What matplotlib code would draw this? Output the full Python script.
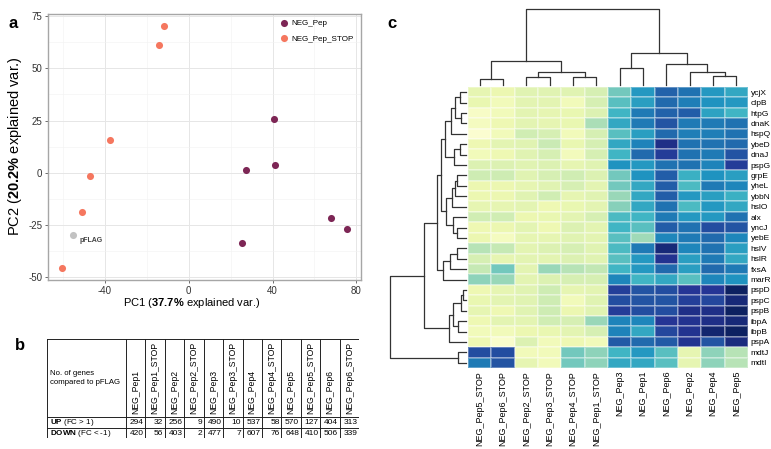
import matplotlib

matplotlib.use("Agg")
import matplotlib.pyplot as plt
import numpy as np
from matplotlib.ticker import MultipleLocator

plt.rcParams["font.family"] = ["Liberation Sans", "DejaVu Sans"]
plt.rcParams["mathtext.fontset"] = "custom"
plt.rcParams["mathtext.rm"] = "Liberation Sans"
plt.rcParams["mathtext.bf"] = "Liberation Sans:bold"
plt.rcParams["axes.unicode_minus"] = False

W, H = 771, 449

# ---- panel a: PCA scores
pep_pc1 = [40.8, 41.1, 27.3, 25.4, 68.1, 75.4]
pep_pc2 = [25.5, 3.6, 1.2, -33.7, -21.8, -27.1]
stop_pc1 = [-11.9, -14.3, -37.5, -47.0, -51.1, -60.3]
stop_pc2 = [70.3, 61.4, 15.5, -1.4, -19.0, -45.7]
pflag_pc1 = [-55.4]
pflag_pc2 = [-29.7]

# ---- panel b: DE gene counts vs pFLAG
tab_cols = ["NEG_Pep1", "NEG_Pep1_STOP", "NEG_Pep2", "NEG_Pep2_STOP",
            "NEG_Pep3", "NEG_Pep3_STOP", "NEG_Pep4", "NEG_Pep4_STOP",
            "NEG_Pep5", "NEG_Pep5_STOP", "NEG_Pep6", "NEG_Pep6_STOP"]
tab_up = [294, 32, 256, 9, 490, 10, 537, 58, 570, 127, 404, 313]
tab_down = [420, 56, 403, 2, 477, 7, 607, 76, 648, 410, 506, 339]

# ---- panel c: clustered heatmap (display order)
hm_cols = ["NEG_Pep5_STOP", "NEG_Pep6_STOP", "NEG_Pep2_STOP", "NEG_Pep3_STOP",
           "NEG_Pep4_STOP", "NEG_Pep1_STOP", "NEG_Pep3", "NEG_Pep1",
           "NEG_Pep6", "NEG_Pep2", "NEG_Pep4", "NEG_Pep5"]
genes = ["ycjX", "clpB", "htpG", "dnaK", "hspQ", "ybeD", "dnaJ", "pspG", "grpE",
         "yheL", "ybbN", "hslO", "alx", "yncJ", "yebE", "hslV", "hslR", "fxsA",
         "marR", "pspD", "pspC", "pspB", "ibpA", "ibpB", "pspA", "mdtJ", "mdtI"]
hm_vals = [
    [0.15, 0.13, 0.17, 0.17, 0.17, 0.20, 0.40, 0.60, 0.74, 0.70, 0.60, 0.55],
    [0.14, 0.10, 0.16, 0.16, 0.10, 0.20, 0.45, 0.58, 0.72, 0.67, 0.62, 0.60],
    [0.06, 0.10, 0.16, 0.15, 0.14, 0.18, 0.50, 0.68, 0.74, 0.75, 0.57, 0.50],
    [0.08, 0.12, 0.16, 0.15, 0.14, 0.30, 0.55, 0.68, 0.78, 0.68, 0.68, 0.70],
    [0.03, 0.10, 0.22, 0.20, 0.10, 0.20, 0.45, 0.58, 0.72, 0.67, 0.67, 0.70],
    [0.12, 0.16, 0.17, 0.24, 0.14, 0.20, 0.55, 0.66, 0.90, 0.70, 0.70, 0.72],
    [0.10, 0.12, 0.17, 0.20, 0.09, 0.20, 0.50, 0.72, 0.85, 0.70, 0.68, 0.78],
    [0.18, 0.18, 0.17, 0.18, 0.15, 0.17, 0.62, 0.60, 0.70, 0.70, 0.66, 0.85],
    [0.23, 0.23, 0.17, 0.20, 0.22, 0.18, 0.40, 0.62, 0.75, 0.52, 0.62, 0.58],
    [0.13, 0.13, 0.15, 0.17, 0.20, 0.16, 0.40, 0.55, 0.75, 0.48, 0.68, 0.65],
    [0.13, 0.13, 0.17, 0.22, 0.15, 0.17, 0.33, 0.55, 0.75, 0.60, 0.58, 0.52],
    [0.15, 0.15, 0.16, 0.12, 0.14, 0.16, 0.36, 0.55, 0.70, 0.48, 0.60, 0.55],
    [0.22, 0.22, 0.13, 0.14, 0.16, 0.20, 0.48, 0.50, 0.68, 0.60, 0.60, 0.70],
    [0.12, 0.13, 0.16, 0.12, 0.18, 0.16, 0.50, 0.45, 0.75, 0.70, 0.80, 0.78],
    [0.13, 0.08, 0.15, 0.15, 0.17, 0.16, 0.45, 0.32, 0.65, 0.68, 0.72, 0.65],
    [0.28, 0.25, 0.16, 0.18, 0.20, 0.17, 0.48, 0.68, 0.93, 0.65, 0.70, 0.58],
    [0.20, 0.15, 0.16, 0.16, 0.18, 0.17, 0.45, 0.60, 0.88, 0.58, 0.68, 0.55],
    [0.25, 0.40, 0.16, 0.33, 0.28, 0.26, 0.50, 0.60, 0.72, 0.58, 0.72, 0.68],
    [0.35, 0.33, 0.16, 0.18, 0.20, 0.20, 0.65, 0.50, 0.55, 0.45, 0.65, 0.62],
    [0.12, 0.15, 0.17, 0.23, 0.15, 0.16, 0.84, 0.78, 0.80, 0.87, 0.87, 0.98],
    [0.14, 0.16, 0.17, 0.23, 0.10, 0.17, 0.80, 0.78, 0.78, 0.84, 0.82, 0.93],
    [0.15, 0.12, 0.17, 0.23, 0.13, 0.17, 0.85, 0.80, 0.80, 0.90, 0.90, 0.98],
    [0.12, 0.16, 0.16, 0.22, 0.20, 0.33, 0.66, 0.65, 0.87, 0.88, 0.90, 0.93],
    [0.10, 0.10, 0.13, 0.14, 0.16, 0.20, 0.66, 0.55, 0.82, 0.88, 0.95, 0.98],
    [0.12, 0.04, 0.18, 0.10, 0.12, 0.10, 0.76, 0.72, 0.76, 0.88, 0.78, 0.92],
    [0.80, 0.80, 0.10, 0.10, 0.40, 0.35, 0.50, 0.60, 0.45, 0.15, 0.35, 0.28],
    [0.68, 0.78, 0.15, 0.10, 0.40, 0.35, 0.55, 0.55, 0.45, 0.15, 0.35, 0.28],
]
# linkage rows: (child a, child b, height); ids >= n are earlier merges
col_links = [(0, 1, 5.7), (2, 3, 7.7), (4, 5, 8.3), (13, 14, 12.7), (12, 15, 24.3),
             (10, 11, 9.3), (9, 17, 12.7), (8, 18, 20.7), (6, 7, 16.7),
             (20, 19, 31.7), (16, 21, 75.7)]
row_links = [(0, 1, 6.3), (2, 3, 5.5), (27, 28, 11), (29, 4, 15), (5, 6, 6.3),
             (31, 7, 12), (30, 32, 21.5), (8, 9, 8.7), (34, 10, 11), (35, 11, 13.7),
             (13, 14, 8.7), (12, 37, 13.3), (36, 38, 20), (33, 39, 25.3),
             (15, 16, 9), (41, 17, 16.5), (42, 18, 23), (40, 43, 29.3),
             (19, 20, 3), (45, 21, 5.3), (22, 23, 7.7), (46, 47, 12.7),
             (48, 24, 17), (44, 49, 42.7), (25, 26, 8), (50, 51, 77)]


def box(x0, y0, x1, y1):
    return [x0 / W, 1 - y1 / H, (x1 - x0) / W, (y1 - y0) / H]


def dendro(links, n):
    pos = [i + 0.5 for i in range(n)] + [0.0] * len(links)
    hgt = [0.0] * (n + len(links))
    segs = []
    for k, (a, b, h) in enumerate(links):
        pos[n + k] = (pos[a] + pos[b]) / 2
        hgt[n + k] = h
        segs.append(([pos[a], pos[a], pos[b], pos[b]], [hgt[a], h, h, hgt[b]]))
    return segs


fig = plt.figure(figsize=(W / 100, H / 100), dpi=100)

# ---------------- a
ax = fig.add_axes(box(48, 14, 361, 280))
ax.scatter(pep_pc1, pep_pc2, s=26, color="#7d2655", label="NEG_Pep", zorder=3, lw=0)
ax.scatter(stop_pc1, stop_pc2, s=26, color="#f5775f", label="NEG_Pep_STOP", zorder=3, lw=0)
ax.scatter(pflag_pc1, pflag_pc2, s=26, color="#c2c2c2", zorder=3, lw=0)
ax.annotate("pFLAG", (pflag_pc1[0], pflag_pc2[0]), xytext=(5, -4), textcoords="offset points",
            fontsize=5, fontweight="bold", color="#444444", va="center")
ax.xaxis.set_major_locator(MultipleLocator(40))
ax.xaxis.set_minor_locator(MultipleLocator(20))
ax.yaxis.set_major_locator(MultipleLocator(25))
ax.yaxis.set_minor_locator(MultipleLocator(12.5))
ax.grid(which="major", color="#e6e6e6", lw=0.7)
ax.grid(which="minor", color="#f2f2f2", lw=0.4)
ax.set_axisbelow(True)
for sp in ax.spines.values():
    sp.set_color("#a6a6a6")
    sp.set_linewidth(1.0)
ax.tick_params(which="major", length=2.5, width=0.6, color="#555555", labelsize=7,
               labelcolor="#333333", pad=1.5)
ax.tick_params(which="minor", length=0)
ax.legend(loc="upper left", bbox_to_anchor=(0.72, 1.0), frameon=False, fontsize=5.8,
          handletextpad=0.3, labelspacing=0.95, handlelength=1.2, borderaxespad=0.3)
fig.text(192 / W, 1 - 303 / H, r"PC1 ($\bf{37.7\%}$ explained var.)", fontsize=8,
         ha="center", va="center")
fig.text(15 / W, 1 - 146 / H, r"PC2 ($\bf{20.2\%}$ explained var.)", fontsize=10.5,
         ha="center", va="center", rotation=90)

# ---------------- b
ax_t = fig.add_axes(box(47, 339, 359, 438))
tw, th = 312, 99
label_w, head_h, row_h = 79, 78, 10.5
col_w = (tw - label_w) / len(tab_cols)
ax_t.set_xlim(0, tw)
ax_t.set_ylim(th, 0)
ax_t.axis("off")
lk = dict(color="#222222", lw=0.7)
ax_t.plot([0, tw, tw, 0, 0], [0, 0, th, th, 0], **lk)
for yy in (head_h, head_h + row_h):
    ax_t.plot([0, tw], [yy, yy], **lk)
for j in range(len(tab_cols)):
    xx = label_w + j * col_w
    ax_t.plot([xx, xx], [0, th], **lk)
    ax_t.text(xx + col_w / 2, head_h - 3, tab_cols[j], rotation=90, ha="center",
              va="bottom", fontsize=6.2)
    for r, v in enumerate((tab_up[j], tab_down[j])):
        ax_t.text(xx + col_w - 1.5, head_h + row_h * (r + 0.55), str(v), ha="right",
                  va="center", fontsize=6)
ax_t.text(3, head_h / 2, "No. of genes\ncompared to pFLAG", ha="left", va="center",
          fontsize=5.6, linespacing=1.3)
ax_t.text(3, head_h + row_h * 0.55, r"$\bf{UP}$ (FC > 1)", ha="left", va="center",
          fontsize=5.8)
ax_t.text(3, head_h + row_h * 1.55, r"$\bf{DOWN}$ (FC < -1)", ha="left", va="center",
          fontsize=5.8)

# ---------------- c
ax_h = fig.add_axes(box(468, 87, 748, 368))
vals = np.array(hm_vals)
ax_h.pcolormesh(vals, cmap="YlGnBu", vmin=0, vmax=1, edgecolors=(1, 1, 1, 0.3), linewidth=0.3)
ax_h.set_xlim(0, len(hm_cols))
ax_h.set_ylim(len(genes), 0)
ax_h.set_xticks(np.arange(len(hm_cols)) + 0.5)
ax_h.set_xticklabels(hm_cols, rotation=90, fontsize=6.5)
ax_h.set_yticks(np.arange(len(genes)) + 0.5)
ax_h.set_yticklabels(genes, fontsize=6)
ax_h.yaxis.tick_right()
ax_h.tick_params(length=0, pad=2)
for sp in ax_h.spines.values():
    sp.set_visible(False)

ax_cd = fig.add_axes(box(468, 9, 748, 85))
for xs, ys in dendro(col_links, len(hm_cols)):
    ax_cd.plot(xs, ys, color="#333333", lw=0.9, clip_on=False)
ax_cd.set_xlim(0, len(hm_cols))
ax_cd.set_ylim(0, max(l[2] for l in col_links))
ax_cd.axis("off")

ax_rd = fig.add_axes(box(390, 87, 466, 368))
for xs, ys in dendro(row_links, len(genes)):
    ax_rd.plot(ys, xs, color="#333333", lw=0.9, clip_on=False)
ax_rd.set_xlim(max(l[2] for l in row_links), 0)
ax_rd.set_ylim(len(genes), 0)
ax_rd.axis("off")

for lab, px, py in (("a", 13, 23), ("b", 20, 345), ("c", 392, 23)):
    fig.text(px / W, 1 - py / H, lab, fontsize=12, fontweight="bold", ha="center", va="center")

fig.savefig("out.png", dpi=100)
